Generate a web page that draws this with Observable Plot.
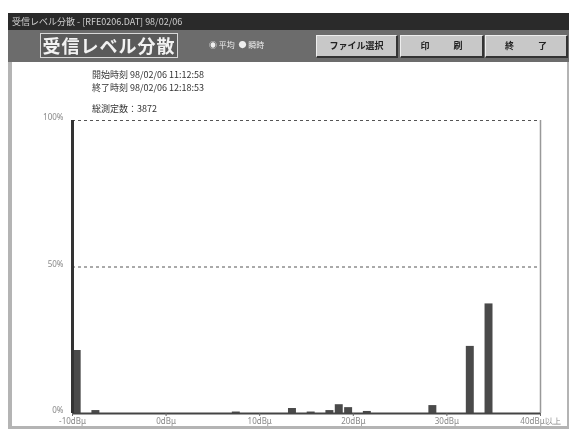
<!DOCTYPE html>
<html><head><meta charset="utf-8">
<script src="https://cdn.jsdelivr.net/npm/d3@7"></script>
<script src="https://cdn.jsdelivr.net/npm/@observablehq/plot@0.6"></script>
<style>
body{margin:0;width:576px;height:438px;position:relative;overflow:hidden;background:#fff;font-family:"Noto Sans CJK JP","Noto Sans",sans-serif;filter:blur(0.35px);}
.abs{position:absolute;}
#frame{left:8px;top:13px;width:561px;height:416px;background:#b4b4b4;}
#titlebar{left:8px;top:13px;width:561px;height:17px;background:#2a2a2a;color:#cfcfcf;font-size:9px;line-height:17px;padding-left:4px;box-sizing:border-box;white-space:nowrap;}
#header{left:8px;top:30px;width:561px;height:32px;background:#6c6c6c;}
#logo{left:40px;top:33px;width:138px;height:25px;background:#5a5a5a;border:1px solid #d8d8d8;box-sizing:border-box;color:#f2f2f2;font-size:18px;font-weight:bold;line-height:23px;text-align:center;letter-spacing:1px;font-family:"Noto Sans CJK JP",serif;}
#radio{left:209px;top:39px;color:#eee;font-size:8px;line-height:12px;white-space:nowrap;}
.btn{top:35px;height:23px;background:#c8c8c8;border-top:1px solid #eee;border-left:1px solid #eee;border-right:2px solid #333;border-bottom:2px solid #333;box-sizing:border-box;color:#222;font-size:9px;line-height:20px;text-align:center;font-weight:bold;}
#content{left:12px;top:62px;width:555px;height:364px;background:#fff;}
#info{left:92px;top:68px;font-size:9px;line-height:13px;color:#333;white-space:nowrap;}
#chart{left:0;top:100px;}
</style></head>
<body>
<div class="abs" id="frame"></div>
<div class="abs" id="titlebar">受信レベル分散 - [RFE0206.DAT] 98/02/06</div>
<div class="abs" id="header"></div>
<div class="abs" id="logo">受信レベル分散</div>
<div class="abs" id="radio">◉ 平均&nbsp;&nbsp;● 瞬時</div>
<div class="abs btn" style="left:316px;width:82px;">ファイル選択</div>
<div class="abs btn" style="left:400px;width:84px;word-spacing:22px;">印 刷</div>
<div class="abs btn" style="left:485px;width:83px;word-spacing:22px;">終 了</div>
<div class="abs" id="content"></div>
<div class="abs" id="info">開始時刻 98/02/06 11:12:58<br>終了時刻 98/02/06 12:18:53<br><span style="display:inline-block;margin-top:8px">総測定数：3872</span></div>
<div class="abs" id="chart"></div>
<script>
const levels = [-10, -8, 7, 13, 15, 17, 18, 19, 21, 28, 32, 34];
const percents = [21.5, 1, 0.5, 1.7, 0.5, 1, 3, 2, 0.7, 2.7, 22.9, 37.4];
const xTicks = [-10, 0, 10, 20, 30, 40];
const xTickLabels = ["-10dBμ", "0dBμ", "10dBμ", "20dBμ", "30dBμ", "40dBμ以上"];
const yTicks = [0, 50, 100];
const yTickLabels = ["0%", "50%", "100%"];
const gridLines = [50, 100];

const data = levels.map((l, i) => ({lo: l, hi: l + 1, pct: percents[i]}));

const chart = Plot.plot({
  width: 576, height: 330,
  marginLeft: 72, marginRight: 36, marginTop: 20, marginBottom: 17,
  style: {background: "transparent", fontFamily: "Noto Sans, sans-serif"},
  x: {domain: [-10, 40]},
  y: {domain: [0, 100]},
  marks: [
    Plot.ruleY(gridLines, {stroke: "#555", strokeDasharray: "3,3", strokeWidth: 1}),
    Plot.ruleX([40], {y1: 0, y2: 100, stroke: "#999", strokeWidth: 1.5}),
    Plot.rectY(data, {x1: "lo", x2: "hi", y: "pct", fill: "#4a4a4a", insetLeft: 0.7, insetRight: 0.7}),
    Plot.ruleY([0], {stroke: "#444", strokeWidth: 2}),
    Plot.ruleX([-10], {y1: 0, y2: 100, stroke: "#333", strokeWidth: 3}),
    Plot.axisX({ticks: xTicks, tickFormat: d => xTickLabels[xTicks.indexOf(d)], tickSize: 3, tickPadding: 2, fontSize: 8, color: "#888", stroke: "#666", label: null}),
    Plot.axisY({ticks: yTicks, tickFormat: d => yTickLabels[yTicks.indexOf(d)], tickSize: 0, tickPadding: 9, fontSize: 8, color: "#888", dy: -3, label: null})
  ]
});
document.getElementById("chart").appendChild(chart);
</script>
</body></html>
